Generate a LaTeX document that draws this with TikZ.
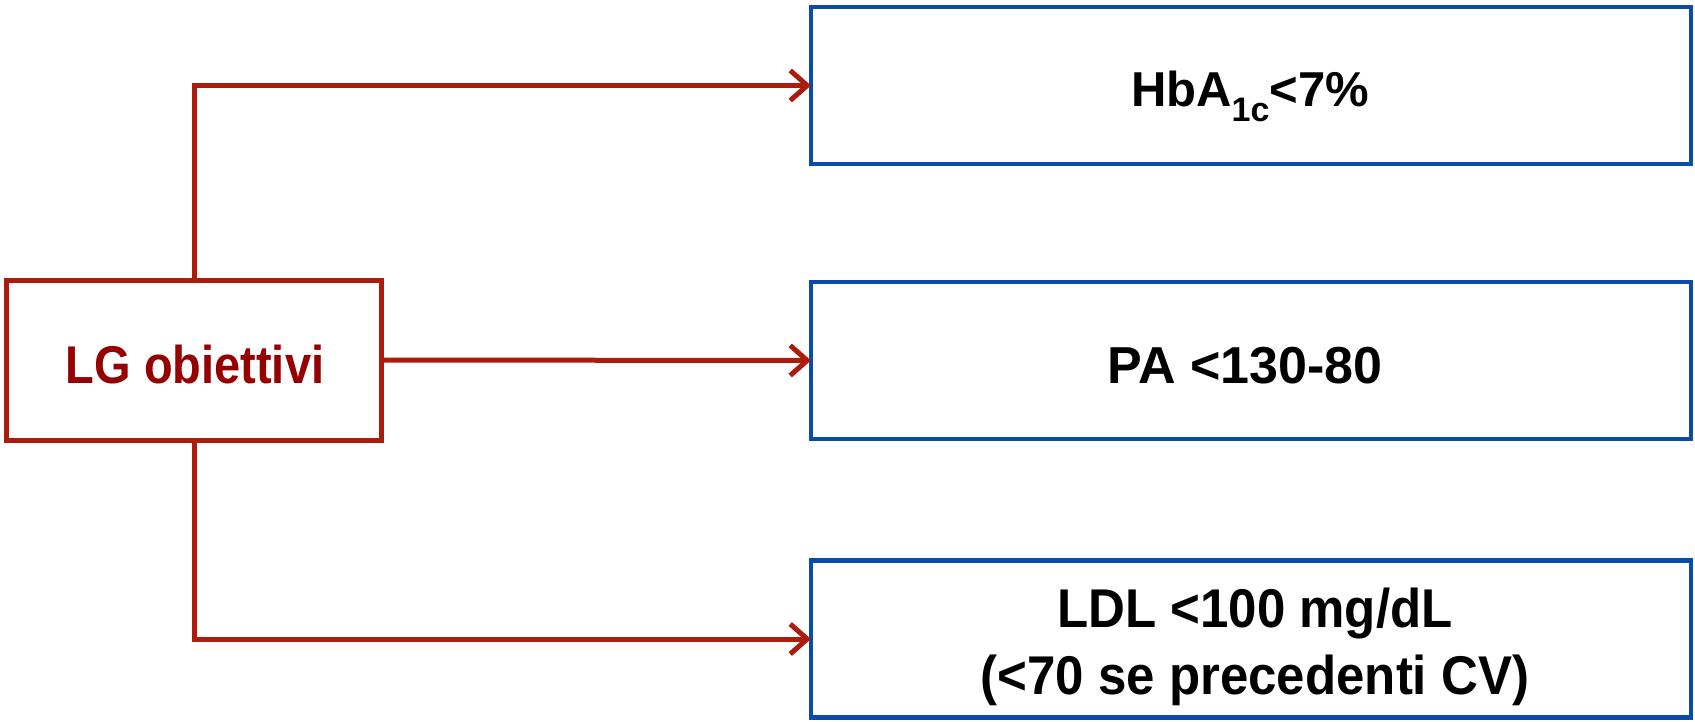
\documentclass[tikz,border=0pt]{standalone}
\usepackage{fontspec}
\setmainfont{Liberation Sans}
\usetikzlibrary{arrows.meta}
\definecolor{lgred}{RGB}{172,28,12}
\definecolor{lgtext}{RGB}{150,0,0}
\definecolor{boxblue}{RGB}{10,76,172}
\tikzset{
  srcbox/.style={draw=lgred, line width=5pt, minimum width=375pt, minimum height=160pt,
    inner sep=0pt, outer sep=0pt},
  goalbox/.style={draw=boxblue, line width=4.5pt, minimum width=880pt, minimum height=157pt,
    inner sep=0pt, outer sep=0pt},
  boxtext/.style={anchor=base, inner sep=0pt, outer sep=0pt, text=black},
  conn/.style={draw=lgred, line width=5pt,
    -{Straight Barb[length=17pt,width=30pt]}}
}
\begin{document}
\begin{tikzpicture}[x=1pt,y=-1pt]
\useasboundingbox (0,0) rectangle (1695,722);
\node[srcbox] (lg) at (194,360) {};
\node[goalbox] (t1) at (1251,85.5) {};
\node[goalbox] (t2) at (1251,360.5) {};
\node[goalbox] (t3) at (1251,639) {};
\node[boxtext, text=lgtext, font=\fontsize{47}{56}\selectfont\bfseries] (lgtxt) at (195,383)
  {\scalebox{1}[1.13]{LG obiettivi}};
\node[boxtext, font=\fontsize{49}{56}\selectfont\bfseries] (t1txt) at (1250,107)
  {HbA\raisebox{-15pt}{\fontsize{34}{34}\selectfont 1c}<7\%};
\node[boxtext, font=\fontsize{52}{60}\selectfont\bfseries] (t2txt) at (1245,383)
  {PA <130-80};
\node[boxtext, font=\fontsize{51}{61.7}\selectfont\bfseries] (t3txt) at (1255,694)
  {\scalebox{1}[1.07]{\begin{tabular}[b]{@{}c@{}}LDL <100 mg/dL\\(<70 se precedenti CV)\end{tabular}}};
\draw[conn] (lg.north) |- (t1.west);
\draw[conn] (lg.east) -- (t2.west);
\draw[conn] (lg.south) |- (t3.west);
\end{tikzpicture}
\end{document}
